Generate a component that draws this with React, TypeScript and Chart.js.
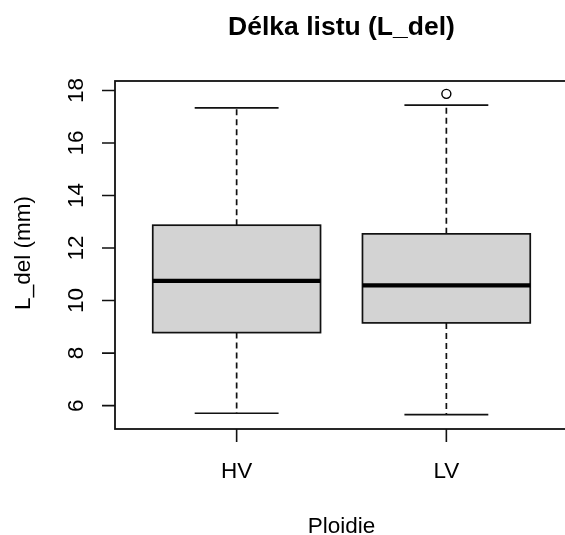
import React, { useEffect, useRef } from "react";
import { Chart, registerables } from "chart.js";

Chart.register(...registerables);

// ---- data ----
const categories = ["HV", "LV"];
const lowerWhisker = [5.71, 5.66];
const q1 = [8.78, 9.15];
const median = [10.75, 10.58];
const q3 = [12.87, 12.54];
const upperWhisker = [17.34, 17.44];
const outlierGroup = [2];
const outlierValue = [17.87];
const yTicks = [6, 8, 10, 12, 14, 16, 18];
const yLimits = [5.11, 18.36];
const xLimits = [0.42, 2.58];

const TITLE = "Délka listu (L_del)";
const X_TITLE = "Ploidie";
const Y_TITLE = "L_del (mm)";

const FONT = '"Liberation Sans", Arial, Helvetica, sans-serif';
const BOX_WIDTH = 0.8;
const CAP_WIDTH = 0.4;

const boxplotPlugin = {
  id: "rBoxplot",
  beforeDatasetsDraw(chart: any) {
    const { ctx, scales } = chart;
    const xs = scales.x;
    const ys = scales.y;
    ctx.save();
    categories.forEach((_, i) => {
      const c = i + 1;
      const xc = xs.getPixelForValue(c);
      const xl = xs.getPixelForValue(c - BOX_WIDTH / 2);
      const xr = xs.getPixelForValue(c + BOX_WIDTH / 2);
      const cl = xs.getPixelForValue(c - CAP_WIDTH / 2);
      const cr = xs.getPixelForValue(c + CAP_WIDTH / 2);
      const yLo = ys.getPixelForValue(lowerWhisker[i]);
      const yQ1 = ys.getPixelForValue(q1[i]);
      const yMed = ys.getPixelForValue(median[i]);
      const yQ3 = ys.getPixelForValue(q3[i]);
      const yHi = ys.getPixelForValue(upperWhisker[i]);

      // whiskers (dashed)
      ctx.strokeStyle = "#111";
      ctx.lineWidth = 1.7;
      ctx.setLineDash([6, 4]);
      ctx.beginPath();
      ctx.moveTo(xc, yQ3);
      ctx.lineTo(xc, yHi);
      ctx.moveTo(xc, yQ1);
      ctx.lineTo(xc, yLo);
      ctx.stroke();
      ctx.setLineDash([]);

      // caps
      ctx.beginPath();
      ctx.moveTo(cl, yHi);
      ctx.lineTo(cr, yHi);
      ctx.moveTo(cl, yLo);
      ctx.lineTo(cr, yLo);
      ctx.stroke();

      // box
      ctx.fillStyle = "#D3D3D3";
      ctx.fillRect(xl, yQ3, xr - xl, yQ1 - yQ3);
      ctx.lineWidth = 1.7;
      ctx.strokeStyle = "#111";
      ctx.strokeRect(xl, yQ3, xr - xl, yQ1 - yQ3);

      // median
      ctx.lineWidth = 4.2;
      ctx.strokeStyle = "#000";
      ctx.beginPath();
      ctx.moveTo(xl, yMed);
      ctx.lineTo(xr, yMed);
      ctx.stroke();
    });
    ctx.restore();
  },
  afterDraw(chart: any) {
    const { ctx, scales, chartArea } = chart;
    const xs = scales.x;
    const ys = scales.y;
    ctx.save();
    // frame
    ctx.strokeStyle = "#111";
    ctx.lineWidth = 1.8;
    ctx.strokeRect(chartArea.left, chartArea.top, chartArea.right - chartArea.left, chartArea.bottom - chartArea.top);

    ctx.fillStyle = "#000";
    // y ticks
    ctx.font = `22.5px ${FONT}`;
    ctx.lineWidth = 1.6;
    ctx.beginPath();
    yTicks.forEach((t) => {
      const y = ys.getPixelForValue(t);
      ctx.moveTo(chartArea.left - 13, y);
      ctx.lineTo(chartArea.left, y);
    });
    ctx.stroke();
    yTicks.forEach((t) => {
      const y = ys.getPixelForValue(t);
      ctx.save();
      ctx.translate(chartArea.left - 32, y);
      ctx.rotate(-Math.PI / 2);
      ctx.textAlign = "center";
      ctx.textBaseline = "alphabetic";
      ctx.fillText(String(t), 0, 0);
      ctx.restore();
    });

    // x ticks
    ctx.beginPath();
    categories.forEach((_, i) => {
      const x = xs.getPixelForValue(i + 1);
      ctx.moveTo(x, chartArea.bottom);
      ctx.lineTo(x, chartArea.bottom + 13);
    });
    ctx.stroke();
    ctx.textAlign = "center";
    ctx.textBaseline = "alphabetic";
    categories.forEach((c, i) => {
      const x = xs.getPixelForValue(i + 1);
      ctx.fillText(c, x, chartArea.bottom + 49);
    });

    // axis titles
    const midX = (chartArea.left + chartArea.right) / 2;
    ctx.fillText(X_TITLE, midX, chartArea.bottom + 104);
    ctx.save();
    ctx.translate(30, 253);
    ctx.rotate(-Math.PI / 2);
    ctx.fillText(Y_TITLE, 0, 0);
    ctx.restore();

    // main title
    ctx.font = `bold 26.5px ${FONT}`;
    ctx.fillText(TITLE, midX, 35);
    ctx.restore();
  },
};

export default function App() {
  const ref = useRef<HTMLCanvasElement | null>(null);
  useEffect(() => {
    if (!ref.current) return;
    const chart = new Chart(ref.current, {
      type: "scatter",
      data: {
        datasets: [
          {
            label: "outliers",
            data: outlierGroup.map((g, i) => ({ x: g, y: outlierValue[i] })),
            pointRadius: 4.5,
            pointHoverRadius: 4.5,
            pointBorderWidth: 1.4,
            pointBorderColor: "#000",
            pointBackgroundColor: "rgba(0,0,0,0)",
            borderColor: "#000",
            backgroundColor: "rgba(0,0,0,0)",
          },
        ],
      },
      options: {
        responsive: false,
        animation: false,
        devicePixelRatio: 1,
        layout: { padding: { left: 115, top: 81, right: 22, bottom: 106 } },
        scales: {
          x: { type: "linear", min: xLimits[0], max: xLimits[1], display: false },
          y: { type: "linear", min: yLimits[0], max: yLimits[1], display: false },
        },
        plugins: {
          legend: { display: false },
          tooltip: { enabled: false },
          title: { display: false },
        },
      },
      plugins: [boxplotPlugin],
    });
    return () => chart.destroy();
  }, []);
  return (
    <div
      style={{
        position: "fixed",
        left: 0,
        top: 0,
        width: 565,
        height: 535,
        overflow: "hidden",
        background: "#fff",
      }}
    >
      <canvas ref={ref} width={590} height={535} style={{ width: 590, height: 535, display: "block" }} />
    </div>
  );
}
